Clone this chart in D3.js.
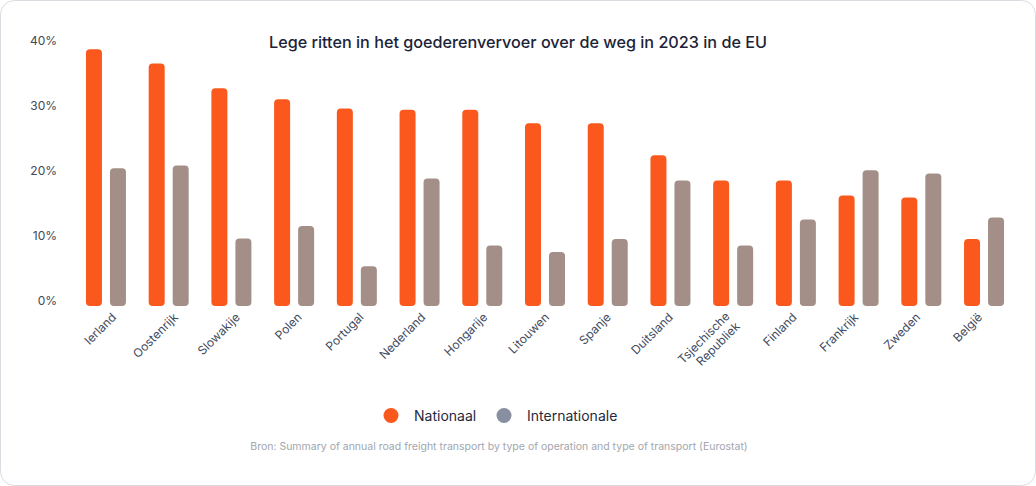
<!DOCTYPE html>
<html><head><meta charset="utf-8">
<script src="https://cdn.jsdelivr.net/npm/d3@7"></script>
<style>
html,body{margin:0;padding:0;background:#fff;}
svg{display:block;font-family:Inter,"Noto Sans",sans-serif;}
</style></head>
<body>
<svg id="chart" width="1036" height="486"></svg>
<script>
const categories = ["Ierland","Oostenrijk","Slowakije","Polen","Portugal","Nederland","Hongarije","Litouwen","Spanje","Duitsland","Tsjechische Republiek","Finland","Frankrijk","Zweden","België"];
const nationaal = [39.5,37.3,33.5,31.8,30.4,30.2,30.2,28.1,28.1,23.2,19.3,19.3,17.0,16.7,10.3];
const internationale = [21.2,21.6,10.4,12.3,6.1,19.6,9.3,8.3,10.3,19.3,9.3,13.3,20.9,20.4,13.6];
const yTicks = [0,10,20,30,40];
const seriesNames = ["Nationaal","Internationale"];
const title = "Lege ritten in het goederenvervoer over de weg in 2023 in de EU";
const source = "Bron: Summary of annual road freight transport by type of operation and type of transport (Eurostat)";

const svg = d3.select("#chart");
const W = 1036, H = 486;

svg.append("rect").attr("x",0.5).attr("y",0.5).attr("width",W-1).attr("height",H-1)
  .attr("rx",14).attr("fill","#fff").attr("stroke","#d9dce1");

const x = d3.scaleBand().domain(categories).range([74.6,1015.4]);
const xs = d3.scaleBand().domain(seriesNames).range([-20,20]).paddingInner(1/3);
const y = d3.scaleLinear().domain([0,40]).range([306,46]);
const colors = {"Nationaal":"#FA581C","Internationale":"#A38F87"};
const legendColors = {"Nationaal":"#FA581C","Internationale":"#878FA0"};

svg.append("text").attr("x",W/2).attr("y",48).attr("text-anchor","middle")
  .attr("font-size",16.2).attr("font-weight",500).attr("fill","#1b2339").text(title);

// y axis
const yAxis = d3.axisLeft(y).tickValues(yTicks).tickFormat(d=>d+"%").tickSize(0).tickPadding(0);
const gy = svg.append("g").attr("transform","translate(57,-5)").call(yAxis);
gy.select(".domain").remove();
gy.selectAll("text").attr("font-size",12).attr("fill","#3f4759").attr("font-family","Inter,sans-serif");

// bars
const data = categories.map((c,i)=>({c, vals:[{s:"Nationaal",v:nationaal[i]},{s:"Internationale",v:internationale[i]}]}));
const g = svg.append("g");
data.forEach(d=>{
  const cx = x(d.c)+x.bandwidth()/2;
  d.vals.forEach(s=>{
    const bx = cx + xs(s.s), bw = xs.bandwidth();
    const top = y(s.v), bot = y(0), r = 4;
    g.append("path").attr("fill",colors[s.s])
     .attr("d",`M${bx},${bot-r} L${bx},${top+r} Q${bx},${top} ${bx+r},${top} L${bx+bw-r},${top} Q${bx+bw},${top} ${bx+bw},${top+r} L${bx+bw},${bot-r} Q${bx+bw},${bot} ${bx+bw-r},${bot} L${bx+r},${bot} Q${bx},${bot} ${bx},${bot-r} Z`);
  });
});

// x labels
const xl = d3.scalePoint().domain(categories).range([114,980]);
categories.forEach(c=>{
  const lines = c==="Tsjechische Republiek" ? ["Tsjechische","Republiek"] : [c];
  const t = svg.append("text").attr("transform",`translate(${xl(c)+(lines.length>1?-5:0)},${315+(lines.length>1?-1:0)}) rotate(-45)`)
    .attr("text-anchor","end").attr("font-size",12).attr("fill","#3f4a60");
  lines.forEach((l,i)=>{
    t.append("tspan").attr("x",0).attr("dy",i===0?"0.35em":"1.2em").text(l);
  });
});

// legend
const leg = [{s:"Nationaal",cx:391,tx:414},{s:"Internationale",cx:504,tx:527}];
leg.forEach(l=>{
  svg.append("circle").attr("cx",l.cx).attr("cy",415.5).attr("r",7.5).attr("fill",legendColors[l.s]);
  svg.append("text").attr("x",l.tx).attr("y",420.5).attr("font-size",14).attr("fill","#1f2a3d").text(l.s);
});

svg.append("text").attr("x",499).attr("y",450).attr("text-anchor","middle")
  .attr("font-size",10.5).attr("fill","#a2a6ae").text(source);
</script>
</body></html>
